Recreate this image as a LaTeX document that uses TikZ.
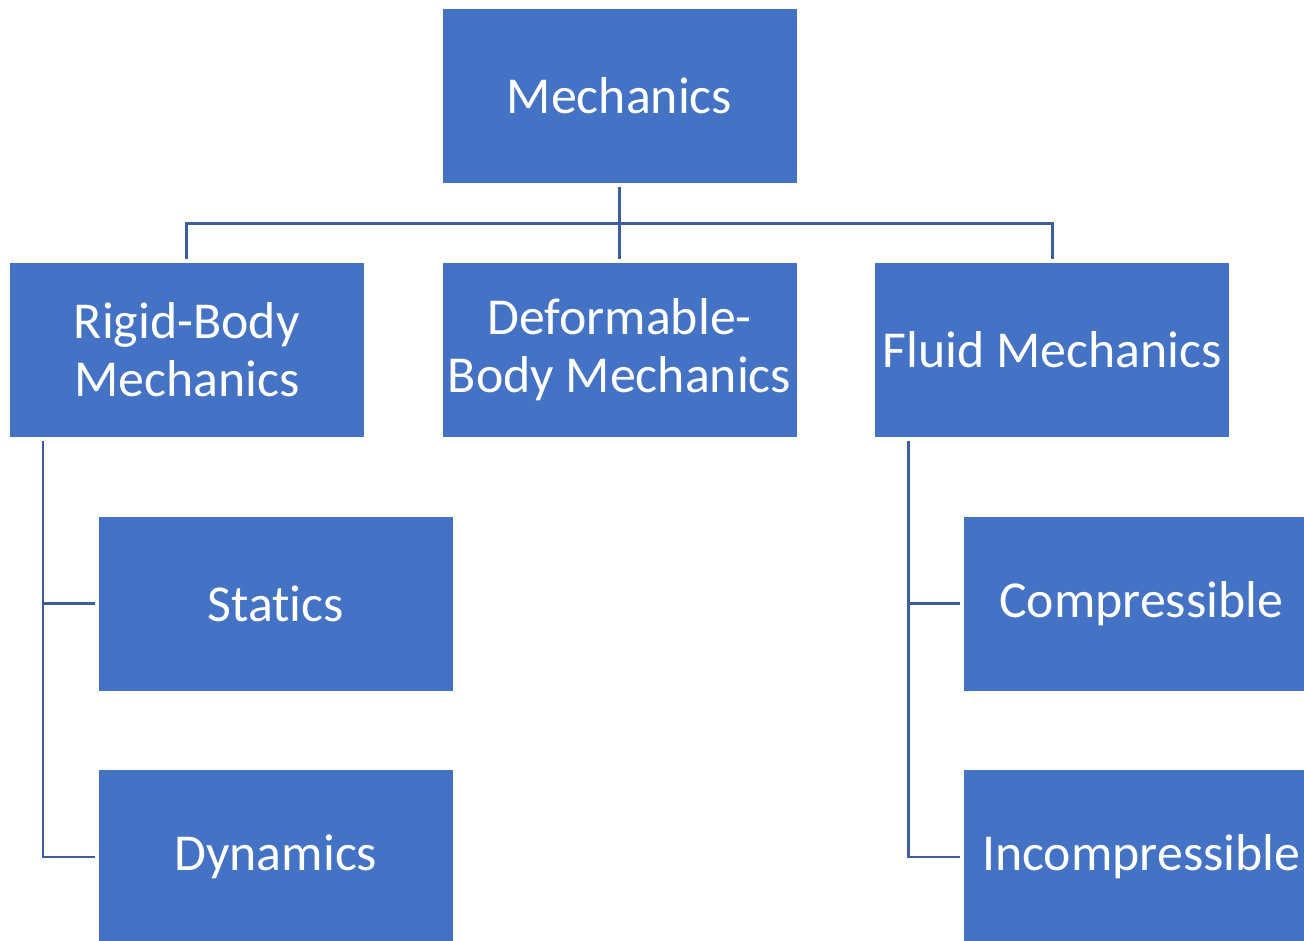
\documentclass[tikz,border=0pt]{standalone}
\usepackage{fontspec}
\setmainfont[RawFeature={-liga;-clig;-dlig;-calt}]{Carlito}
\usepackage{xcolor}
\usetikzlibrary{positioning}

\definecolor{boxblue}{HTML}{4472C4}
\definecolor{linkblue}{HTML}{3B5E9E}

\begin{document}
\begin{tikzpicture}[
        % spacing between boxes
        node distance=1.56cm and 1.54cm,
        % box style
        block/.style={
            rectangle,
            draw=white,
            line width=0.4pt,
            fill=boxblue,
            minimum width=7.1cm,
            minimum height=3.5cm,
            inner sep=1pt,
            align=center,
            text=white,
            font=\fontsize{29.5}{33.5}\selectfont
        },
        % connector style
        link/.style={
            draw=linkblue,
            line width=1.5pt,
            shorten <=0.06cm,
            shorten >=0.06cm
        }
    ]

    % page frame
    \clip (0,0) rectangle (26.08,-18.82);

    % 1. top level
    \node[block] (mech) at (12.39,-1.92) {Mechanics};

    % 2. second level
    \node[block, below=of mech] (deform) {Deformable-\\Body Mechanics};
    \node[block, left=of deform] (rigid) {Rigid-Body\\Mechanics};
    \node[block, right=of deform] (fluid) {Fluid Mechanics};

    % 3. third level
    \node[block, below=of rigid, xshift=1.78cm] (statics) {Stat\kern0pt ics};
    \node[block, below=of statics] (dynamics) {Dynamics};
    \node[block, below=of fluid, xshift=1.78cm] (compr) {Compressible};
    \node[block, below=of compr] (incompr) {Incompressible};

    % 4. connectors
    \draw[link] (mech.south) -- ++(0,-0.79) -| (rigid.north);
    \draw[link] (mech.south) -- ++(0,-0.79) -| (fluid.north);
    \draw[link] (mech) -- (deform);

    \draw[link] ([xshift=0.68cm]rigid.south west) |- (statics.west);
    \draw[link] ([xshift=0.68cm]rigid.south west) |- (dynamics.west);
    \draw[link] ([xshift=0.68cm]fluid.south west) |- (compr.west);
    \draw[link] ([xshift=0.68cm]fluid.south west) |- (incompr.west);

\end{tikzpicture}
\end{document}
